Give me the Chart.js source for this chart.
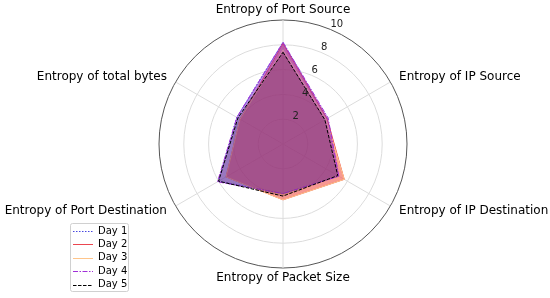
<!DOCTYPE html>
<html>
<head>
<meta charset="utf-8">
<script src="https://cdn.jsdelivr.net/npm/chart.js@4.4.0/dist/chart.umd.min.js"></script>
<style>
  html, body { margin: 0; padding: 0; background: #fff; }
  #wrap { position: relative; width: 550px; height: 298px; }
</style>
</head>
<body>
<div id="wrap"><canvas id="c" width="550" height="298"></canvas></div>
<script>
const categories = [
  'Entropy of Port Source',
  'Entropy of IP Source',
  'Entropy of IP Destination',
  'Entropy of Packet Size',
  'Entropy of Port Destination',
  'Entropy of total bytes'
];
const seriesNames = ['Day 1', 'Day 2', 'Day 3', 'Day 4', 'Day 5'];
const day1 = [8.2, 4.1, 5.2, 4.0, 6.0, 4.3];
const day2 = [8.1, 4.1, 5.7, 4.5, 5.3, 4.0];
const day3 = [7.6, 4.0, 5.7, 4.5, 5.3, 4.0];
const day4 = [8.2, 4.2, 5.2, 4.0, 6.1, 4.3];
const day5 = [7.4, 3.9, 5.1, 4.2, 6.0, 4.2];
const tickValues = [2, 4, 6, 8, 10];

const styles = [
  { line: '#4848e0', fill: 'rgba(60,60,200,0.25)', dash: [1.5, 1.5] },
  { line: '#eb4650', fill: 'rgba(235,60,70,0.5)', dash: [] },
  { line: '#ffc58a', fill: 'rgba(255,140,100,0.25)', dash: [] },
  { line: '#a030d8', fill: 'rgba(140,40,200,0.4)', dash: [5, 1.5, 1.5, 1.5] },
  { line: '#000000', fill: 'rgba(0,0,0,0.15)', dash: [3.5, 1.5] }
];
const allData = [day1, day2, day3, day4, day5];

const FONT = '"DejaVu Sans", sans-serif';

const datasets = allData.map((d, i) => ({
  label: seriesNames[i],
  data: d,
  order: allData.length - i,
  borderColor: styles[i].line,
  backgroundColor: styles[i].fill,
  borderDash: styles[i].dash,
  borderWidth: 1,
  fill: true,
  pointRadius: 0,
  pointHoverRadius: 0
}));

const labelPlugin = {
  id: 'mplLabels',
  afterDraw(chart) {
    const ctx = chart.ctx;
    const scale = chart.scales.r;
    ctx.save();
    // point (category) labels
    ctx.font = '12px ' + FONT;
    ctx.fillStyle = '#000';
    ctx.textBaseline = 'middle';
    chart.data.labels.forEach((lab, i) => {
      const p = scale.getPointPosition(i, scale.drawingArea + 10);
      const dx = p.x - scale.xCenter;
      ctx.textAlign = Math.abs(dx) < 1 ? 'center' : (dx > 0 ? 'left' : 'right');
      ctx.fillText(lab, p.x, p.y);
    });
    // radial tick labels at 22.5 degrees
    ctx.font = '10px ' + FONT;
    ctx.fillStyle = '#222';
    ctx.textAlign = 'left';
    ctx.textBaseline = 'bottom';
    const ang = 22.5 * Math.PI / 180;
    tickValues.forEach(v => {
      const r = scale.getDistanceFromCenterForValue(v);
      const x = scale.xCenter + r * Math.sin(ang);
      const y = scale.yCenter - r * Math.cos(ang);
      ctx.fillText(String(v), x, y);
    });
    // legend (in dataset order, Day 1 first)
    const bx = 70.5, by = 223.5, bw = 58, bh = 68;
    ctx.fillStyle = 'rgba(255,255,255,0.8)';
    ctx.strokeStyle = '#d0d0d0';
    ctx.lineWidth = 1;
    ctx.beginPath();
    if (ctx.roundRect) ctx.roundRect(bx, by, bw, bh, 2); else ctx.rect(bx, by, bw, bh);
    ctx.fill();
    ctx.stroke();
    ctx.font = '10px ' + FONT;
    ctx.textAlign = 'left';
    ctx.textBaseline = 'middle';
    chart.data.datasets.forEach((ds, i) => {
      const y = 231 + i * 13.4;
      ctx.strokeStyle = ds.borderColor;
      ctx.setLineDash(ds.borderDash || []);
      ctx.lineWidth = 1;
      ctx.beginPath();
      ctx.moveTo(73, Math.round(y) + 0.5);
      ctx.lineTo(93, Math.round(y) + 0.5);
      ctx.stroke();
      ctx.setLineDash([]);
      ctx.fillStyle = '#000';
      ctx.fillText(ds.label, 98, y);
    });
    ctx.restore();
  }
};

new Chart(document.getElementById('c'), {
  type: 'radar',
  data: { labels: categories, datasets: datasets },
  options: {
    responsive: false,
    animation: false,
    events: [],
    layout: { padding: { top: 20, bottom: 30, left: 35, right: 19 } },
    plugins: { legend: { display: false }, tooltip: { enabled: false } },
    elements: { line: { tension: 0 } },
    scales: {
      r: {
        min: 0,
        max: 10,
        ticks: { display: false, stepSize: 2 },
        pointLabels: { display: false },
        grid: {
          circular: true,
          lineWidth: 1,
          color: (c) => (c.tick && c.tick.value === 10) ? '#555555' : '#dcdcdc'
        },
        angleLines: { color: '#dcdcdc', lineWidth: 1 }
      }
    }
  },
  plugins: [labelPlugin]
});
</script>
</body>
</html>
